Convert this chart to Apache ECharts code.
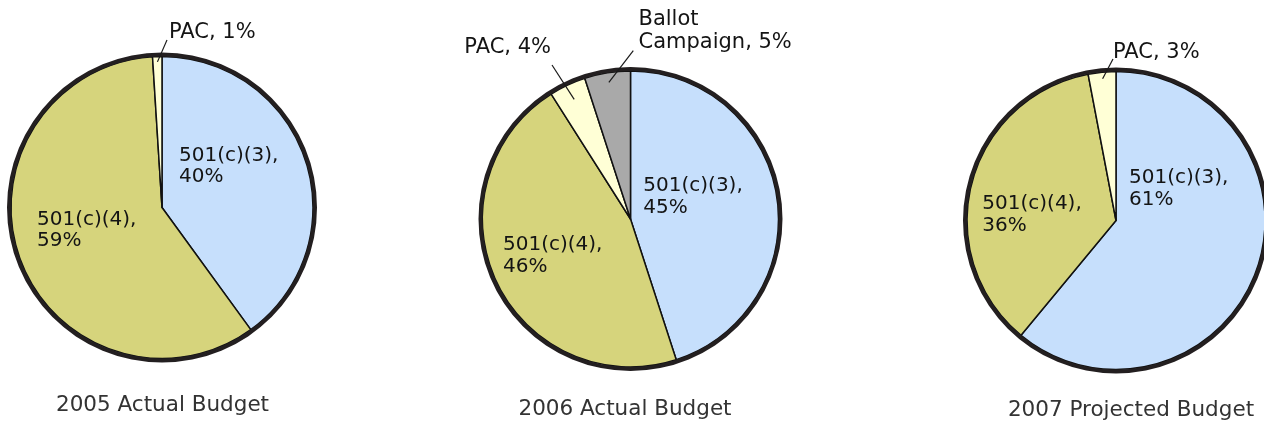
<!DOCTYPE html>
<html>
<head>
<meta charset="utf-8">
<script src="https://cdn.jsdelivr.net/npm/echarts@6/dist/echarts.min.js"></script>
<style>
  html, body { margin: 0; padding: 0; background: #ffffff; }
  #chart { width: 1264px; height: 423px; }
</style>
</head>
<body>
<div id="chart"></div>
<script>
// Budget split by organisation type, one pie per year
const categories2005 = ['501(c)(3)', '501(c)(4)', 'PAC'];
const values2005 = [40, 59, 1];

const categories2006 = ['501(c)(3)', '501(c)(4)', 'PAC', 'Ballot Campaign'];
const values2006 = [45, 46, 4, 5];

const categories2007 = ['501(c)(3)', '501(c)(4)', 'PAC'];
const values2007 = [61, 36, 3];

const pieTitles = ['2005 Actual Budget', '2006 Actual Budget', '2007 Projected Budget'];

// ---- styling ----
const FONT = "'DejaVu Sans', Verdana, sans-serif";
const sliceColors = {
  '501(c)(3)': '#c6dffc',
  '501(c)(4)': '#d6d47c',
  'PAC': '#ffffd6',
  'Ballot Campaign': '#a9a9a9'
};
const RIM = 4;            // width of the dark outer rim
const RIM_COLOR = '#231f20';

// Per-pie layout: centre, outer radius, title placement and label placement
// (label offsets are relative to the pie centre; leader lines start inside the slice
// at `from` x radius along the slice's middle angle and end at `lineTo`).
const pies = [
  {
    names: categories2005, values: values2005,
    center: [162, 207.5], radius: 155, title: { x: 162.5, y: 393.5 },
    labels: [
      { at: [17, -62.6], lh: 21 },
      { at: [-125, 1.4], lh: 21 },
      { at: [7, -185.5], lh: 22, outside: true, from: 0.94, lineTo: [5, -167.5] }
    ]
  },
  {
    names: categories2006, values: values2006,
    center: [630.5, 219], radius: 152, title: { x: 625, y: 397.5 },
    labels: [
      { at: [12.8, -44], lh: 22 },
      { at: [-127.5, 15], lh: 22 },
      { at: [-79.5, -182], lh: 22, outside: true, align: 'right', from: 0.87, lineTo: [-78.5, -154] },
      { at: [8, -210.8], lh: 23, outside: true, wrap: true, from: 0.91, lineTo: [2.8, -168.3] }
    ]
  },
  {
    names: categories2007, values: values2007,
    center: [1116, 220.5], radius: 153, title: { x: 1131, y: 398.5 },
    labels: [
      { at: [13, -53.8], lh: 22 },
      { at: [-133.7, -27.8], lh: 22 },
      { at: [-3, -178.5], lh: 22, outside: true, from: 0.93, lineTo: [-3, -161.5] }
    ]
  }
];

function labelText(spec, name, value) {
  if (!spec.outside) return name + ',\n' + value + '%';
  const shown = spec.wrap ? name.replace(' ', '\n') : name;
  return shown + ', ' + value + '%';
}

// middle angle (radians, screen coords) of a slice, clockwise from 12 o'clock
function midAngle(values, idx) {
  const total = values.reduce((a, b) => a + b, 0);
  let before = 0;
  for (let i = 0; i < idx; i++) before += values[i];
  const frac = (before + values[idx] / 2) / total;
  return -Math.PI / 2 + frac * 2 * Math.PI;
}

// overlay=false: filled slices with the in-slice labels
// overlay=true : transparent copy on top that carries the call-out labels and leader lines
function pieSeries(pie, overlay) {
  const [cx, cy] = pie.center;
  const inner = pie.radius - RIM;
  return {
    type: 'pie',
    z: overlay ? 4 : 2,
    center: [cx, cy],
    radius: [0, inner],
    startAngle: 90,
    clockwise: true,
    avoidLabelOverlap: false,
    silent: true,
    animation: false,
    itemStyle: overlay
      ? { color: 'rgba(0,0,0,0)', borderWidth: 0 }
      : { borderColor: '#111111', borderWidth: 1.5 },
    labelLine: {
      show: overlay, length: 10, length2: 0,
      lineStyle: { color: '#1a1a1a', width: 1.2 }
    },
    data: pie.names.map((name, i) => {
      const spec = pie.labels[i];
      const shown = overlay === !!spec.outside;
      return {
        name: name,
        value: pie.values[i],
        itemStyle: overlay ? {} : { color: sliceColors[name] },
        label: {
          show: shown,
          position: spec.outside ? 'outside' : 'inside',
          formatter: (p) => labelText(spec, p.name, p.value),
          fontFamily: FONT,
          fontSize: spec.outside ? 21 : 20,
          lineHeight: spec.lh,
          color: '#141414'
        },
        labelLine: { show: shown && !!spec.outside }
      };
    }),
    labelLayout: (p) => {
      const spec = pie.labels[p.dataIndex];
      const out = {
        x: cx + spec.at[0],
        y: cy + spec.at[1],
        align: spec.align || 'left',
        verticalAlign: 'top'
      };
      if (spec.outside) {
        let ang = midAngle(pie.values, p.dataIndex);
        const q = p.labelLinePoints && p.labelLinePoints[0];
        if (q) ang = Math.atan2(q[1] - cy, q[0] - cx);
        const rs = pie.radius * spec.from;
        const start = [cx + rs * Math.cos(ang), cy + rs * Math.sin(ang)];
        const end = [cx + spec.lineTo[0], cy + spec.lineTo[1]];
        out.labelLinePoints = [start, end, end];
      }
      return out;
    }
  };
}

const series = [];
pies.forEach((pie) => {
  const [cx, cy] = pie.center;
  series.push(pieSeries(pie, false));
  // dark rim round the pie
  series.push({
    type: 'pie',
    z: 3,
    center: [cx, cy],
    radius: [pie.radius - RIM, pie.radius],
    silent: true,
    animation: false,
    label: { show: false },
    labelLine: { show: false },
    itemStyle: { color: RIM_COLOR, borderWidth: 0 },
    data: [{ name: 'rim', value: 1 }]
  });
  series.push(pieSeries(pie, true));
});

const chart = echarts.init(document.getElementById('chart'), null, { renderer: 'canvas' });
chart.setOption({
  backgroundColor: '#ffffff',
  animation: false,
  tooltip: { show: false },
  title: pies.map((pie, i) => ({
    text: pieTitles[i],
    left: pie.title.x,
    top: pie.title.y,
    textAlign: 'center',
    padding: 0,
    textStyle: {
      fontFamily: FONT,
      fontSize: 21.5,
      fontWeight: 'normal',
      lineHeight: 24,
      color: '#333333'
    }
  })),
  series: series
});
</script>
</body>
</html>
